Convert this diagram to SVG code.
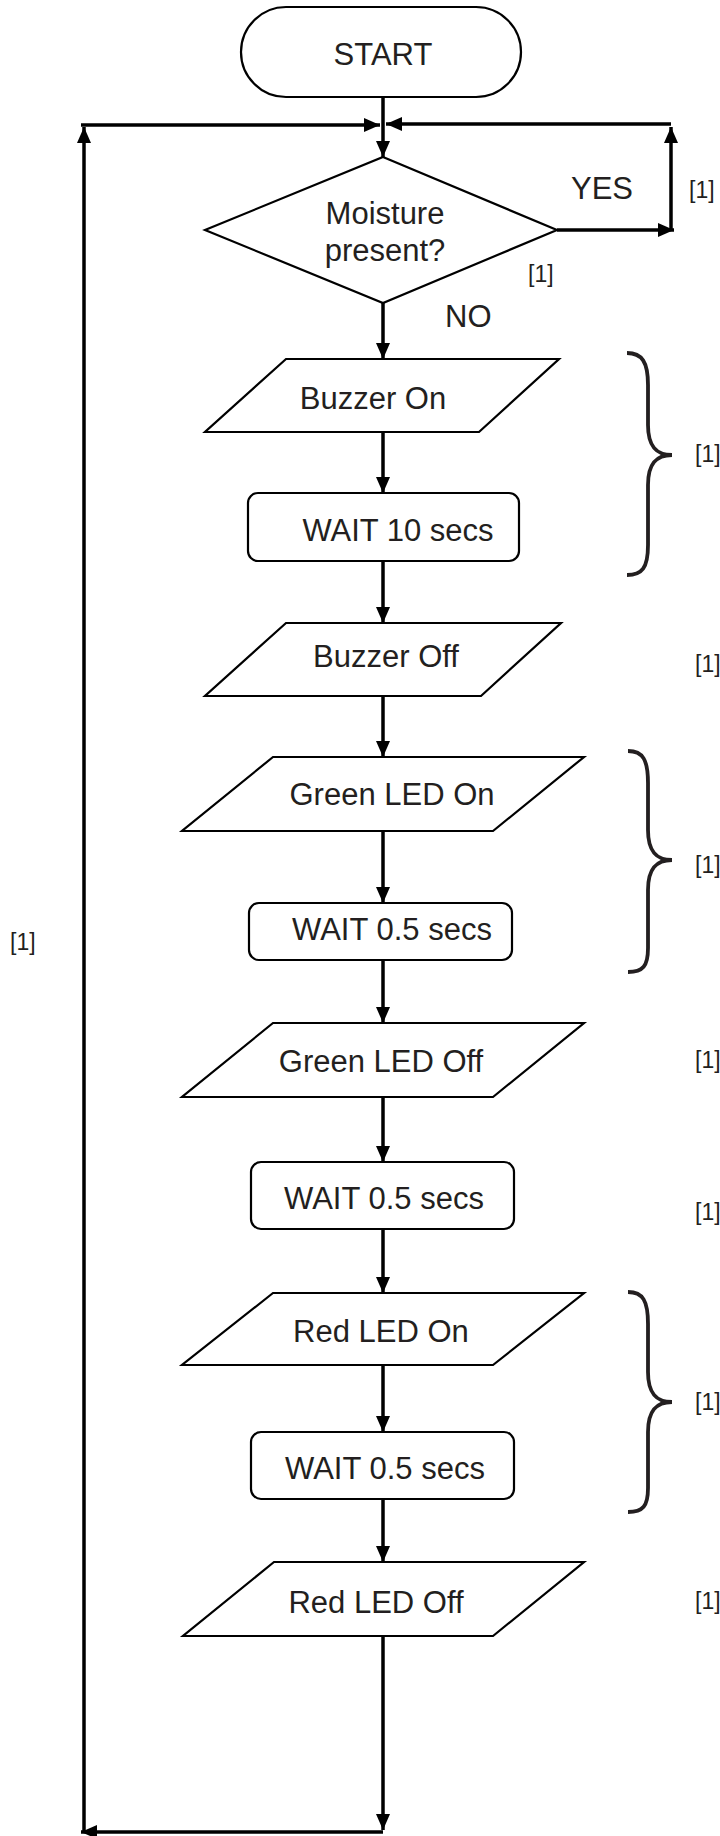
<svg xmlns="http://www.w3.org/2000/svg" width="720" height="1836" viewBox="0 0 720 1836">
<defs>
<marker id="ah" markerUnits="userSpaceOnUse" markerWidth="16" markerHeight="14" refX="16" refY="7" orient="auto">
<path d="M0,0 L16,7 L0,14 z" fill="#000"/>
</marker>
<style>
.shape{fill:#fff;stroke:#000;stroke-width:2.2}
.lbl{font-family:"Liberation Sans",Arial,sans-serif;font-size:31px;fill:#231f20}
.mk{font-family:"Liberation Sans",Arial,sans-serif;font-size:23px;fill:#231f20}
.c{text-anchor:middle}
.ar{fill:none;stroke:#000;stroke-width:3.5;marker-end:url(#ah)}
.br{fill:none;stroke:#231f20;stroke-width:3.8}
</style>
</defs>
<rect width="720" height="1836" fill="#fff"/>

<g id="connectors">
<path class="ar" d="M383,97 V157"/>
<path class="ar" d="M81,125 H380"/>
<path class="ar" d="M557,230 H674"/>
<path class="ar" d="M671,230 V127"/>
<path class="ar" d="M671,124 H386"/>
<path class="ar" d="M383,303 V359"/>
<path class="ar" d="M383,432 V493"/>
<path class="ar" d="M383,561 V623"/>
<path class="ar" d="M383,696 V757"/>
<path class="ar" d="M383,831 V903"/>
<path class="ar" d="M383,960 V1023"/>
<path class="ar" d="M383,1097 V1162"/>
<path class="ar" d="M383,1229 V1293"/>
<path class="ar" d="M383,1365 V1432"/>
<path class="ar" d="M383,1499 V1562"/>
<path class="ar" d="M383,1636 V1830"/>
<path class="ar" d="M383,1832 H81"/>
<path class="ar" d="M84,1832 V127"/>
</g>

<g id="start">
<rect class="shape" x="241" y="7" width="280" height="90" rx="45" ry="45"/>
<text class="lbl c" x="383" y="65">START</text>
</g>

<g id="decision">
<polygon class="shape" points="383,157 557,230 383,303 205,230"/>
<text class="lbl c" x="385" y="224">Moisture</text>
<text class="lbl c" x="385" y="261">present?</text>
<text class="lbl" x="571" y="199">YES</text>
<text class="lbl" x="445" y="327">NO</text>
<text class="mk" x="528" y="282">[1]</text>
<text class="mk" x="689" y="198">[1]</text>
</g>

<g id="buzzer-on">
<polygon class="shape" points="286,359 559,359 479,432 205,432"/>
<text class="lbl c" x="373" y="409">Buzzer On</text>
</g>

<g id="wait-10">
<rect class="shape" x="248" y="493" width="271" height="68" rx="10" ry="10"/>
<text class="lbl c" x="398" y="541">WAIT 10 secs</text>
</g>

<g id="buzzer-off">
<polygon class="shape" points="286,623 561,623 481,696 205,696"/>
<text class="lbl c" x="386" y="667">Buzzer Off</text>
<text class="mk" x="695" y="672">[1]</text>
</g>

<g id="green-on">
<polygon class="shape" points="273,757 584,757 493,831 182,831"/>
<text class="lbl c" x="392" y="805">Green LED On</text>
</g>

<g id="wait-g1">
<rect class="shape" x="249" y="903" width="263" height="57" rx="10" ry="10"/>
<text class="lbl c" x="392" y="940">WAIT 0.5 secs</text>
</g>

<g id="green-off">
<polygon class="shape" points="273,1023 584,1023 493,1097 182,1097"/>
<text class="lbl c" x="381" y="1072">Green LED Off</text>
<text class="mk" x="695" y="1068">[1]</text>
</g>

<g id="wait-g2">
<rect class="shape" x="251" y="1162" width="263" height="67" rx="10" ry="10"/>
<text class="lbl c" x="384" y="1209">WAIT 0.5 secs</text>
<text class="mk" x="695" y="1220">[1]</text>
</g>

<g id="red-on">
<polygon class="shape" points="273,1293 584,1293 493,1365 182,1365"/>
<text class="lbl c" x="381" y="1342">Red LED On</text>
</g>

<g id="wait-r">
<rect class="shape" x="251" y="1432" width="263" height="67" rx="10" ry="10"/>
<text class="lbl c" x="385" y="1479">WAIT 0.5 secs</text>
</g>

<g id="red-off">
<polygon class="shape" points="274,1562 584,1562 493,1636 183,1636"/>
<text class="lbl c" x="376" y="1613">Red LED Off</text>
<text class="mk" x="695" y="1609">[1]</text>
</g>

<g id="braces">
<path class="br" d="M627,353 C642,353 648,362 648,385 L648,425 C648,446 656,455 672,455 C656,455 648,464 648,485 L648,545 C648,568 642,575 627,575"/>
<text class="mk" x="695" y="462">[1]</text>
<path class="br" d="M628,751 C643,751 648,760 648,783 L648,830 C648,851 656,860 672,860 C656,860 648,869 648,890 L648,948 C648,966 643,972 628,972"/>
<text class="mk" x="695" y="873">[1]</text>
<path class="br" d="M628,1292 C643,1292 648,1301 648,1324 L648,1372 C648,1393 656,1402 672,1402 C656,1402 648,1411 648,1432 L648,1488 C648,1506 643,1512 628,1512"/>
<text class="mk" x="695" y="1410">[1]</text>
</g>

<text class="mk" x="10" y="950">[1]</text>
</svg>
